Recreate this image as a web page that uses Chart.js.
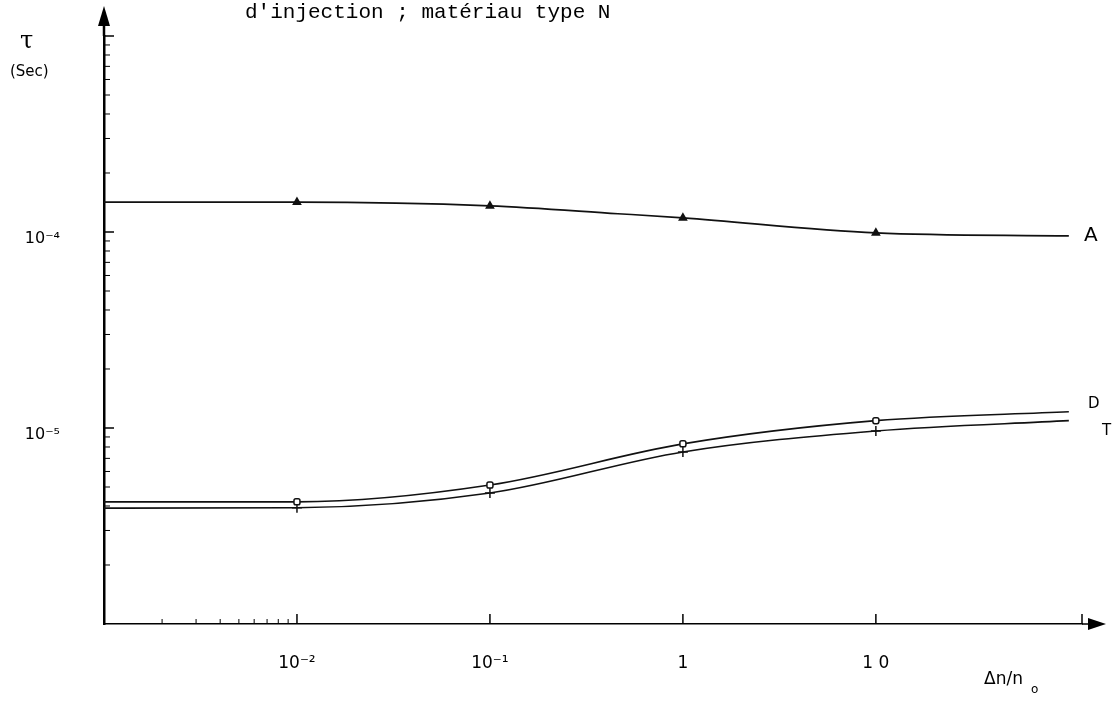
<!DOCTYPE html>
<html>
<head>
<meta charset="utf-8">
<script src="https://cdn.jsdelivr.net/npm/chart.js@4.4.1/dist/chart.umd.min.js"></script>
<style>
  html, body { margin: 0; padding: 0; background: #fff; }
  #wrap { width: 1117px; height: 708px; }
</style>
</head>
<body>
<div id="wrap"><canvas id="chart" width="1117" height="708"></canvas></div>
<script>
// --- data (x = Δn/n0, y = τ in seconds) ---
const injection = [1e-3, 1e-2, 1e-1, 1, 10, 100];
const injectionA = [1e-3, 1e-2, 1e-1, 0.46, 1, 10, 100];
const tauA = [1.42e-4, 1.42e-4, 1.36e-4, 1.24e-4, 1.18e-4, 0.99e-4, 0.955e-4];
const tauD = [4.2e-6, 4.2e-6, 5.12e-6, 8.3e-6, 1.09e-5, 1.21e-5];
const tauT = [3.9e-6, 3.92e-6, 4.66e-6, 7.55e-6, 9.66e-6, 1.09e-5];
const markedX = [1e-2, 1e-1, 1, 10];

// axis ticks and labels
const xLabelValues = [1e-2, 1e-1, 1, 10];
const xLabelTexts = ['10⁻²', '10⁻¹', '1', '1 0'];
const yLabelValues = [1e-4, 1e-5];
const yLabelTexts = ['10⁻⁴', '10⁻⁵'];
const xMajorTicks = [1e-2, 1e-1, 1, 10, 117];
const xMinorTicks = [2e-3, 3e-3, 4e-3, 5e-3, 6e-3, 7e-3, 8e-3, 9e-3];
const yMajorTicks = [1e-3, 1e-4, 1e-5];
const yMinorTicks = [2, 3, 4, 5, 6, 7, 8, 9].flatMap(m => [m * 1e-6, m * 1e-5, m * 1e-4]);

const xMin = 1e-3, xMax = 117, yMin = 1e-6, yMax = 1e-3;

const toPoints = (xs, ys) => xs.map((x, i) => ({ x: x, y: ys[i] }));
const markerRadius = r => ctx => markedX.includes(ctx.raw.x) ? r : 0;

// inward tick marks, axis arrows and the hand written notes
const decorations = {
  id: 'decorations',
  afterDraw(chart) {
    const { ctx, chartArea, scales } = chart;
    const sx = scales.x, sy = scales.y;
    const x0 = chartArea.left, y0 = chartArea.bottom;
    ctx.save();
    ctx.strokeStyle = '#000';
    ctx.fillStyle = '#000';

    ctx.lineWidth = 1.5;
    yMajorTicks.forEach(v => {
      const y = sy.getPixelForValue(v);
      ctx.beginPath(); ctx.moveTo(x0, y); ctx.lineTo(x0 + 10, y); ctx.stroke();
    });
    xMajorTicks.forEach(v => {
      const x = sx.getPixelForValue(v);
      ctx.beginPath(); ctx.moveTo(x, y0); ctx.lineTo(x, y0 - 10); ctx.stroke();
    });
    ctx.lineWidth = 1;
    yMinorTicks.forEach(v => {
      const y = sy.getPixelForValue(v);
      ctx.beginPath(); ctx.moveTo(x0, y); ctx.lineTo(x0 + 6, y); ctx.stroke();
    });
    xMinorTicks.forEach(v => {
      const x = sx.getPixelForValue(v);
      ctx.beginPath(); ctx.moveTo(x, y0); ctx.lineTo(x, y0 - 5); ctx.stroke();
    });

    // y axis arrow
    ctx.lineWidth = 2.5;
    ctx.beginPath(); ctx.moveTo(x0, chartArea.top); ctx.lineTo(x0, 20); ctx.stroke();
    ctx.beginPath(); ctx.moveTo(x0, 6); ctx.lineTo(x0 - 6, 26); ctx.lineTo(x0 + 6, 26); ctx.closePath(); ctx.fill();
    // x axis arrow
    const xr = chartArea.right;
    ctx.lineWidth = 1.5;
    ctx.beginPath(); ctx.moveTo(xr, y0); ctx.lineTo(xr + 10, y0); ctx.stroke();
    ctx.beginPath(); ctx.moveTo(xr + 24, y0); ctx.lineTo(xr + 6, y0 - 6); ctx.lineTo(xr + 6, y0 + 6); ctx.closePath(); ctx.fill();

    // texts
    ctx.textBaseline = 'middle';
    ctx.textAlign = 'left';
    ctx.font = '21px "Liberation Mono", monospace';
    ctx.fillText("d'injection ; matériau type N", 245, 12);
    ctx.font = '24px "DejaVu Serif", serif';
    ctx.fillText('τ', 20, 42);
    ctx.font = '15px "DejaVu Sans", sans-serif';
    ctx.fillText('(Sec)', 10, 72);
    ctx.font = '20px "DejaVu Sans", sans-serif';
    ctx.fillText('A', sx.getPixelForValue(xMax) + 2, sy.getPixelForValue(tauA[tauA.length - 1]));
    ctx.font = '15px "DejaVu Sans", sans-serif';
    ctx.fillText('D', sx.getPixelForValue(xMax) + 6, sy.getPixelForValue(tauD[tauD.length - 1]) - 8);
    ctx.fillText('T', sx.getPixelForValue(xMax) + 20, sy.getPixelForValue(tauT[tauT.length - 1]) + 10);
    ctx.font = '17px "DejaVu Sans", sans-serif';
    ctx.fillText('Δn/n', 984, 680);
    ctx.font = '12px "DejaVu Sans", sans-serif';
    ctx.fillText('o', 1031, 690);
    ctx.restore();
  }
};

new Chart(document.getElementById('chart'), {
  type: 'line',
  data: {
    datasets: [
      {
        label: 'A',
        data: toPoints(injectionA, tauA),
        borderColor: '#111', borderWidth: 1.6,
        pointStyle: 'triangle', pointRadius: markerRadius(4),
        pointBackgroundColor: '#111', pointBorderColor: '#111'
      },
      {
        label: 'D',
        data: toPoints(injection, tauD),
        borderColor: '#111', borderWidth: 1.6,
        pointStyle: 'rectRounded', pointRadius: markerRadius(3.5),
        pointBackgroundColor: '#fff', pointBorderColor: '#111', pointBorderWidth: 1.5
      },
      {
        label: 'T',
        data: toPoints(injection, tauT),
        borderColor: '#111', borderWidth: 1.6,
        pointStyle: 'cross', pointRadius: markerRadius(5),
        pointBorderColor: '#111', pointBorderWidth: 1.5
      }
    ]
  },
  options: {
    responsive: false,
    animation: false,
    layout: { padding: { top: 36, right: 35, left: 0, bottom: 0 } },
    elements: { line: { cubicInterpolationMode: 'monotone' } },
    plugins: { legend: { display: false }, tooltip: { enabled: false } },
    scales: {
      x: {
        type: 'logarithmic', min: xMin, max: xMax,
        afterBuildTicks: s => { s.ticks = xLabelValues.map(v => ({ value: v })); },
        afterFit: s => { s.height = 84; s.paddingLeft = 0; s.paddingRight = 0; },
        grid: { display: false, drawTicks: false },
        border: { display: true, color: '#000', width: 1.5 },
        ticks: {
          autoSkip: false, maxRotation: 0, padding: 29, color: '#000',
          font: { family: 'DejaVu Sans', size: 17 },
          callback: v => xLabelTexts[xLabelValues.indexOf(v)]
        }
      },
      y: {
        type: 'logarithmic', min: yMin, max: yMax,
        afterBuildTicks: s => { s.ticks = yLabelValues.map(v => ({ value: v })); },
        afterFit: s => { s.width = 104; s.paddingTop = 0; s.paddingBottom = 0; },
        grid: { display: false, drawTicks: false },
        border: { display: true, color: '#000', width: 2.5 },
        ticks: {
          padding: 44, labelOffset: 7, color: '#000',
          font: { family: 'DejaVu Sans', size: 16 },
          callback: v => yLabelTexts[yLabelValues.indexOf(v)]
        }
      }
    }
  },
  plugins: [decorations]
});
</script>
</body>
</html>
